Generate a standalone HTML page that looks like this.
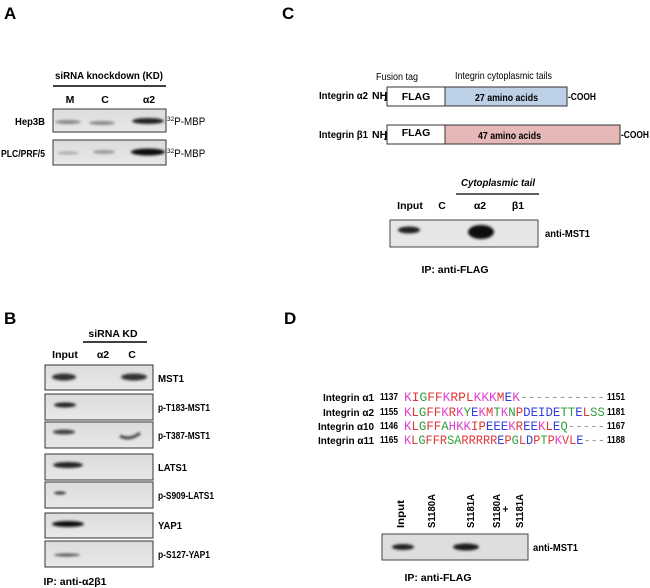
<!DOCTYPE html>
<html><head><meta charset="utf-8"><style>
html,body{margin:0;padding:0;background:#fff;}
svg{display:block;font-family:"Liberation Sans",Arial,sans-serif;}
.lbl{font-size:10.5px;font-weight:bold;}
.big{font-size:17px;font-weight:bold;}
.seq{font-family:"Liberation Mono",monospace;font-size:13px;}
.k{fill:#e040d0}.r{fill:#e03838}.g{fill:#30a040}.u{fill:#3040e0}
</style></head><body>
<svg width="650" height="588" viewBox="0 0 650 588">
<defs>
<filter id="bl" x="-50%" y="-50%" width="200%" height="200%"><feGaussianBlur stdDeviation="1.4"/></filter>
<linearGradient id="blot" x1="0" y1="0" x2="0" y2="1"><stop offset="0" stop-color="#dcdcdc"/><stop offset="1" stop-color="#e8e8e8"/></linearGradient>
</defs>
<!-- A -->
<text x="4" y="19" class="big">A</text>
<text x="55" y="79" class="lbl" font-weight="normal" textLength="108" lengthAdjust="spacingAndGlyphs">siRNA knockdown (KD)</text>
<line x1="53" y1="86" x2="166" y2="86" stroke="#000" stroke-width="1.5"/>
<text x="70" y="103" class="lbl" text-anchor="middle">M</text>
<text x="105" y="103" class="lbl" text-anchor="middle">C</text>
<text x="149" y="103" class="lbl" text-anchor="middle">α2</text>
<rect x="53" y="109" width="113" height="23" fill="url(#blot)" stroke="#333"/>
<rect x="53" y="140" width="113" height="25" fill="url(#blot)" stroke="#333"/>
<g filter="url(#bl)">
<ellipse cx="68" cy="122" rx="13" ry="2" fill="#888"/>
<ellipse cx="102" cy="123" rx="13" ry="2" fill="#888"/>
<ellipse cx="148" cy="121" rx="16" ry="3" fill="#222"/>
<ellipse cx="68" cy="153" rx="11" ry="1.5" fill="#aaa"/>
<ellipse cx="104" cy="152" rx="11" ry="2" fill="#999"/>
<ellipse cx="148" cy="152" rx="17" ry="3.5" fill="#111"/>
</g>
<text x="15" y="125" class="lbl" textLength="30" lengthAdjust="spacingAndGlyphs">Hep3B</text>
<text x="1" y="157" class="lbl" textLength="44" lengthAdjust="spacingAndGlyphs">PLC/PRF/5</text>
<text x="167" y="125" font-size="11"><tspan font-size="6.5" dy="-4">32</tspan><tspan dy="4" textLength="31" lengthAdjust="spacingAndGlyphs">P-MBP</tspan></text>
<text x="167" y="157" font-size="11"><tspan font-size="6.5" dy="-4">32</tspan><tspan dy="4" textLength="31" lengthAdjust="spacingAndGlyphs">P-MBP</tspan></text>

<!-- C -->
<text x="282" y="19" class="big">C</text>
<text x="376" y="80" font-size="10.5" textLength="42" lengthAdjust="spacingAndGlyphs">Fusion tag</text>
<text x="455" y="79" font-size="10.5" textLength="97" lengthAdjust="spacingAndGlyphs">Integrin cytoplasmic tails</text>
<text x="319" y="99" class="lbl" textLength="49" lengthAdjust="spacingAndGlyphs">Integrin α2</text>
<text x="372" y="99" class="lbl" font-size="9">NH</text><text x="384" y="101" class="lbl" font-size="5.5">2</text><text x="386" y="99" class="lbl" font-size="8">-</text>
<rect x="387" y="87" width="58" height="19" fill="#fff" stroke="#333"/>
<text x="416" y="100" class="lbl" text-anchor="middle">FLAG</text>
<rect x="445" y="87" width="122" height="19" fill="#bcd0e6" stroke="#333"/>
<text x="475" y="101" class="lbl" textLength="63" lengthAdjust="spacingAndGlyphs">27 amino acids</text>
<text x="568" y="100" class="lbl" textLength="28" lengthAdjust="spacingAndGlyphs">-COOH</text>
<text x="319" y="138" class="lbl" textLength="49" lengthAdjust="spacingAndGlyphs">Integrin β1</text>
<text x="372" y="138" class="lbl" font-size="9">NH</text><text x="384" y="140" class="lbl" font-size="5.5">2</text><text x="386" y="138" class="lbl" font-size="8">-</text>
<rect x="387" y="125" width="58" height="19" fill="#fff" stroke="#333"/>
<text x="416" y="136" class="lbl" text-anchor="middle">FLAG</text>
<rect x="445" y="125" width="175" height="19" fill="#e6b8b8" stroke="#333"/>
<text x="478" y="139" class="lbl" textLength="63" lengthAdjust="spacingAndGlyphs">47 amino acids</text>
<text x="621" y="138" class="lbl" textLength="28" lengthAdjust="spacingAndGlyphs">-COOH</text>
<text x="498" y="186" class="lbl" font-style="italic" text-anchor="middle" textLength="74" lengthAdjust="spacingAndGlyphs">Cytoplasmic tail</text>
<line x1="456" y1="194" x2="539" y2="194" stroke="#000" stroke-width="1.3"/>
<text x="410" y="209" class="lbl" text-anchor="middle">Input</text>
<text x="442" y="209" class="lbl" text-anchor="middle">C</text>
<text x="480" y="209" class="lbl" text-anchor="middle">α2</text>
<text x="518" y="209" class="lbl" text-anchor="middle">β1</text>
<rect x="390" y="220" width="148" height="27" fill="#e6e6e6" stroke="#444"/>
<g filter="url(#bl)">
<ellipse cx="409" cy="230" rx="11" ry="3.5" fill="#222"/>
<ellipse cx="481" cy="232" rx="13" ry="7" fill="#111"/>
</g>
<text x="545" y="237" class="lbl" textLength="45" lengthAdjust="spacingAndGlyphs">anti-MST1</text>
<text x="455" y="273" class="lbl" text-anchor="middle">IP: anti-FLAG</text>

<!-- B -->
<text x="4" y="324" class="big">B</text>
<text x="113" y="337" class="lbl" text-anchor="middle">siRNA KD</text>
<line x1="83" y1="342" x2="147" y2="342" stroke="#000" stroke-width="1.5"/>
<text x="65" y="358" class="lbl" font-size="11" text-anchor="middle">Input</text>
<text x="103" y="358" class="lbl" font-size="11" text-anchor="middle">α2</text>
<text x="132" y="358" class="lbl" font-size="11" text-anchor="middle">C</text>
<g fill="url(#blot)" stroke="#333">
<rect x="45" y="365" width="108" height="25"/>
<rect x="45" y="394" width="108" height="26"/>
<rect x="45" y="422" width="108" height="26"/>
<rect x="45" y="454" width="108" height="26"/>
<rect x="45" y="482" width="108" height="26"/>
<rect x="45" y="513" width="108" height="25"/>
<rect x="45" y="541" width="108" height="26"/>
</g>
<g filter="url(#bl)">
<ellipse cx="64" cy="377" rx="12" ry="3.5" fill="#333"/>
<ellipse cx="134" cy="377" rx="13" ry="3.5" fill="#333"/>
<ellipse cx="65" cy="405" rx="11" ry="2.5" fill="#222"/>
<ellipse cx="64" cy="432" rx="11" ry="2.5" fill="#444"/>
<path d="M120 436 Q130 441 140 433" stroke="#444" stroke-width="3" fill="none"/>
<ellipse cx="68" cy="465" rx="15" ry="3" fill="#222"/>
<ellipse cx="60" cy="493" rx="6" ry="1.5" fill="#333"/>
<ellipse cx="68" cy="524" rx="16" ry="3" fill="#111"/>
<ellipse cx="67" cy="555" rx="13" ry="1.5" fill="#555"/>
</g>
<g class="lbl">
<text x="158" y="382" textLength="26" lengthAdjust="spacingAndGlyphs">MST1</text>
<text x="158" y="411" textLength="52" lengthAdjust="spacingAndGlyphs">p-T183-MST1</text>
<text x="158" y="439" textLength="52" lengthAdjust="spacingAndGlyphs">p-T387-MST1</text>
<text x="158" y="471" textLength="29" lengthAdjust="spacingAndGlyphs">LATS1</text>
<text x="158" y="499" textLength="56" lengthAdjust="spacingAndGlyphs">p-S909-LATS1</text>
<text x="158" y="529" textLength="24" lengthAdjust="spacingAndGlyphs">YAP1</text>
<text x="158" y="558" textLength="52" lengthAdjust="spacingAndGlyphs">p-S127-YAP1</text>
</g>
<text x="75" y="585" class="lbl" text-anchor="middle">IP: anti-α2β1</text>

<!-- D -->
<text x="284" y="324" class="big">D</text>
<g class="lbl">
<text x="323" y="401" textLength="51" lengthAdjust="spacingAndGlyphs">Integrin α1</text>
<text x="323" y="416" textLength="51" lengthAdjust="spacingAndGlyphs">Integrin α2</text>
<text x="318" y="430" textLength="56" lengthAdjust="spacingAndGlyphs">Integrin α10</text>
<text x="318" y="444" textLength="56" lengthAdjust="spacingAndGlyphs">Integrin α11</text>
</g>
<g class="lbl">
<text x="380" y="400" textLength="18" lengthAdjust="spacingAndGlyphs">1137</text>
<text x="380" y="415" textLength="18" lengthAdjust="spacingAndGlyphs">1155</text>
<text x="380" y="429" textLength="18" lengthAdjust="spacingAndGlyphs">1146</text>
<text x="380" y="443" textLength="18" lengthAdjust="spacingAndGlyphs">1165</text>
<text x="607" y="400" textLength="18" lengthAdjust="spacingAndGlyphs">1151</text>
<text x="607" y="415" textLength="18" lengthAdjust="spacingAndGlyphs">1181</text>
<text x="607" y="429" textLength="18" lengthAdjust="spacingAndGlyphs">1167</text>
<text x="607" y="443" textLength="18" lengthAdjust="spacingAndGlyphs">1188</text>
</g>
<text x="404" y="401" class="seq" textLength="201" lengthAdjust="spacingAndGlyphs"><tspan class="k">K</tspan><tspan class="r">I</tspan><tspan class="g">G</tspan><tspan class="r">FF</tspan><tspan class="k">K</tspan><tspan class="r">RPL</tspan><tspan class="k">KKK</tspan><tspan class="r">M</tspan><tspan class="u">E</tspan><tspan class="k">K</tspan><tspan fill="#999">-----------</tspan></text>
<text x="404" y="416" class="seq" textLength="201" lengthAdjust="spacingAndGlyphs"><tspan class="k">K</tspan><tspan class="r">L</tspan><tspan class="g">G</tspan><tspan class="r">FF</tspan><tspan class="k">K</tspan><tspan class="r">R</tspan><tspan class="k">K</tspan><tspan class="g">Y</tspan><tspan class="u">E</tspan><tspan class="k">K</tspan><tspan class="r">M</tspan><tspan class="g">T</tspan><tspan class="k">K</tspan><tspan class="g">N</tspan><tspan class="r">P</tspan><tspan class="u">DEIDE</tspan><tspan class="g">TT</tspan><tspan class="u">E</tspan><tspan class="r">L</tspan><tspan class="g">SS</tspan></text>
<text x="404" y="430" class="seq" textLength="201" lengthAdjust="spacingAndGlyphs"><tspan class="k">K</tspan><tspan class="r">L</tspan><tspan class="g">G</tspan><tspan class="r">FF</tspan><tspan class="g">A</tspan><tspan class="k">HKK</tspan><tspan class="r">IP</tspan><tspan class="u">EEE</tspan><tspan class="k">K</tspan><tspan class="r">R</tspan><tspan class="u">EE</tspan><tspan class="k">K</tspan><tspan class="r">L</tspan><tspan class="u">E</tspan><tspan class="g">Q</tspan><tspan fill="#999">-----</tspan></text>
<text x="404" y="444" class="seq" textLength="201" lengthAdjust="spacingAndGlyphs"><tspan class="k">K</tspan><tspan class="r">L</tspan><tspan class="g">G</tspan><tspan class="r">FFR</tspan><tspan class="g">SA</tspan><tspan class="r">RRRRR</tspan><tspan class="u">E</tspan><tspan class="r">P</tspan><tspan class="g">G</tspan><tspan class="r">L</tspan><tspan class="u">D</tspan><tspan class="r">P</tspan><tspan class="g">T</tspan><tspan class="r">P</tspan><tspan class="k">K</tspan><tspan class="r">VL</tspan><tspan class="u">E</tspan><tspan fill="#999">---</tspan></text>
<g class="lbl">
<text transform="translate(404,528) rotate(-90)" textLength="28" lengthAdjust="spacingAndGlyphs">Input</text>
<text transform="translate(435,528) rotate(-90)" textLength="34" lengthAdjust="spacingAndGlyphs">S1180A</text>
<text transform="translate(474,528) rotate(-90)" textLength="34" lengthAdjust="spacingAndGlyphs">S1181A</text>
<text transform="translate(500,528) rotate(-90)" textLength="34" lengthAdjust="spacingAndGlyphs">S1180A</text>
<text transform="translate(509,509) rotate(-90)" text-anchor="middle">+</text>
<text transform="translate(523,528) rotate(-90)" textLength="34" lengthAdjust="spacingAndGlyphs">S1181A</text>
</g>
<rect x="382" y="534" width="146" height="26" fill="#dedede" stroke="#444"/>
<g filter="url(#bl)">
<ellipse cx="403" cy="547" rx="11" ry="3" fill="#222"/>
<ellipse cx="466" cy="547" rx="13" ry="3.5" fill="#1a1a1a"/>
</g>
<text x="533" y="551" class="lbl" textLength="45" lengthAdjust="spacingAndGlyphs">anti-MST1</text>
<text x="438" y="581" class="lbl" text-anchor="middle">IP: anti-FLAG</text>
</svg>
</body></html>
